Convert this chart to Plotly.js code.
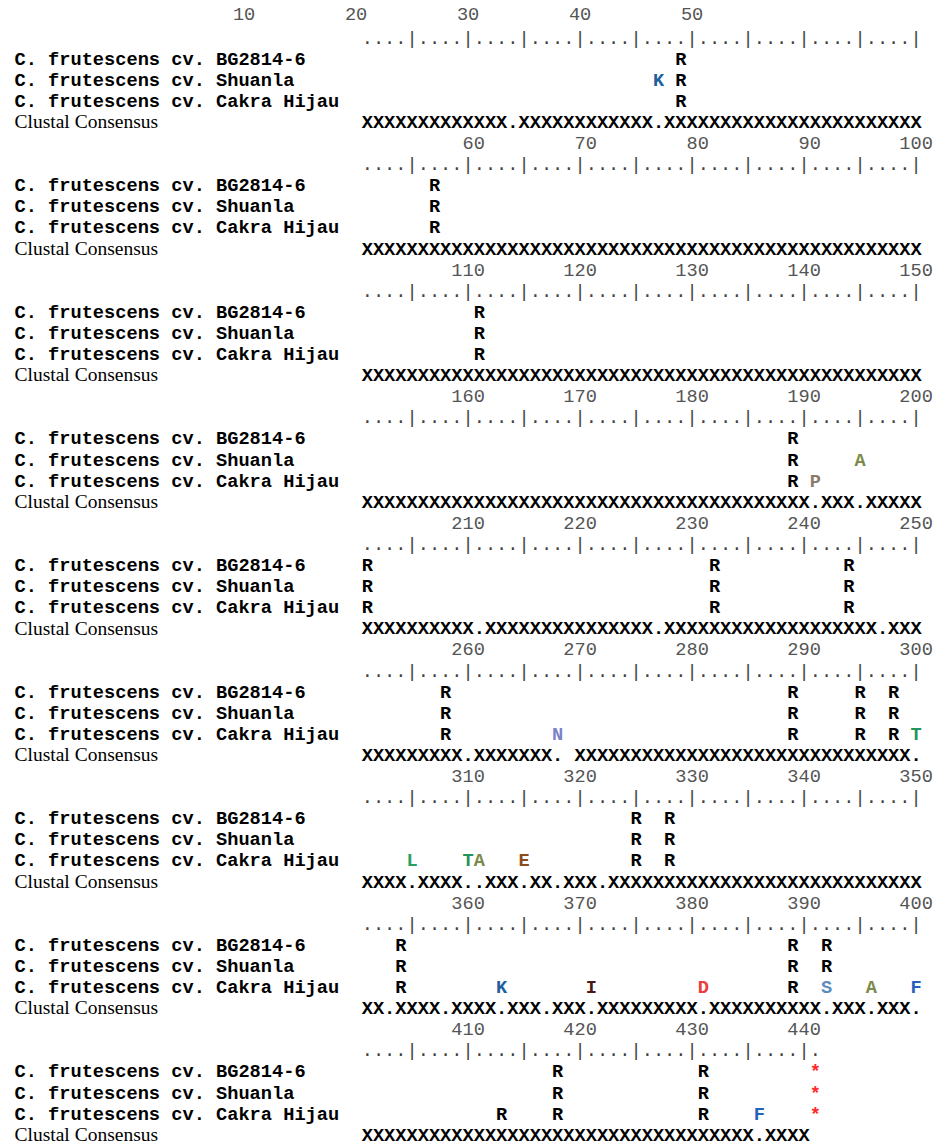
<!DOCTYPE html>
<html>
<head>
<meta charset="utf-8">
<script src="https://cdn.plot.ly/plotly-3.0.1.min.js"></script>
<style>html,body{margin:0;padding:0;background:#fff;}#chart{width:936px;height:1147px;}</style>
</head>
<body>
<div id="chart"></div>
<script>
// ---------------- DATA ----------------
const sequenceNames = ["C. frutescens cv. BG2814-6", "C. frutescens cv. Shuanla", "C. frutescens cv. Cakra Hijau"];
const consensusName = "Clustal Consensus";
const alignmentLength = 441;
const consensusLength = 440;
const blockSize = 50;

// displayed residues (alignment position, residue)
const bgPositions = [29, 57, 111, 189, 201, 232, 244, 258, 289, 295, 298, 325, 328, 354, 389, 392, 418, 431, 441];
const bgResidues  = ["R","R","R","R","R","R","R","R","R","R","R","R","R","R","R","R","R","R","*"];

const shuanlaPositions = [27, 29, 57, 111, 189, 195, 201, 232, 244, 258, 289, 295, 298, 325, 328, 354, 389, 392, 418, 431, 441];
const shuanlaResidues  = ["K","R","R","R","R","A","R","R","R","R","R","R","R","R","R","R","R","R","R","R","*"];

const cakraPositions = [29, 57, 111, 189, 191, 201, 232, 244, 258, 268, 289, 295, 298, 300, 305, 310, 311, 315, 325, 328, 354, 363, 371, 381, 389, 392, 396, 400, 413, 418, 431, 436, 441];
const cakraResidues  = ["R","R","R","R","P","R","R","R","R","N","R","R","R","T","L","T","A","E","R","R","R","K","I","D","R","S","A","F","R","R","R","F","*"];

// consensus: 'X' everywhere except these
const consensusDotPositions = [14, 27, 191, 195, 211, 227, 247, 260, 268, 300, 305, 310, 311, 315, 318, 322, 353, 358, 363, 367, 371, 381, 392, 396, 400, 436];
const consensusGapPositions = [269];

// ruler labels
const rulerLabels = [10,20,30,40,50,60,70,80,90,100,110,120,130,140,150,160,170,180,190,200,
  210,220,230,240,250,260,270,280,290,300,310,320,330,340,350,360,370,380,390,400,410,420,430,440];

// residue colours
const residueColors = {
  R: "#000000", K: "#1d5f9f", A: "#7c8b4b", P: "#8a7c6b", N: "#7b82c8", T: "#22955a",
  L: "#25a060", E: "#8c4b1f", I: "#4a1616", D: "#ef3b3b", S: "#5b8cc0", F: "#2462bb", "*": "#ff2a2a"
};

// ---------------- GEOMETRY HELPERS ----------------
const nameWidth = 31;               // characters reserved for names
const linesPerBlock = 6;            // numbers, ruler, 3 sequences, consensus
const pxLeft = 20.1, pxChar = 11.2; // char grid
const pyTop = 17.8, pyLine = 21.1;  // line grid
const blockOf = p => Math.floor((p - 1) / blockSize);
const colOf = p => (p - 1) % blockSize + 1;
const xOfCol = c => nameWidth + c - 1;        // grid char index
const lineOf = (b, k) => b * linesPerBlock + k;
const nBlocks = Math.ceil(alignmentLength / blockSize);

const monoBold = {family: "Liberation Mono, Courier New, monospace", size: 18.67, weight: "bold"};
const traces = [];

// names
{
  const x = [], y = [], t = [];
  for (let b = 0; b < nBlocks; b++) {
    sequenceNames.forEach((n, i) => { x.push(-0.5); y.push(lineOf(b, 2 + i)); t.push(n); });
  }
  traces.push({type: "scatter", mode: "text", x, y, text: t, textposition: "middle right",
    textfont: {...monoBold, color: "#000"}, hoverinfo: "skip"});
}
// consensus names
{
  const x = [], y = [], t = [];
  for (let b = 0; b < nBlocks; b++) { x.push(-0.5); y.push(lineOf(b, 5)); t.push(consensusName); }
  traces.push({type: "scatter", mode: "text", x, y, text: t, textposition: "middle right",
    textfont: {family: "Liberation Serif, Times New Roman, serif", size: 19.5, color: "#000"}, hoverinfo: "skip"});
}
// ruler labels
{
  const x = [], y = [], t = [];
  rulerLabels.forEach(p => {
    const s = String(p);
    let b = blockOf(p), c;
    if (p <= blockSize) { b = 0; c = p - 20; }
    else { c = colOf(p) + 1 - (s.length - 1) / 2; }
    x.push(xOfCol(c)); y.push(lineOf(b, 0) + (b === 0 ? -0.12 : 0)); t.push(s);
  });
  traces.push({type: "scatter", mode: "text", x, y, text: t, textposition: "middle center",
    textfont: {family: "Liberation Mono, Courier New, monospace", size: 18.67, color: "#555"}, hoverinfo: "skip"});
}
// ruler ticks
{
  const x = [], y = [], t = [];
  for (let p = 1; p <= alignmentLength; p++) {
    x.push(xOfCol(colOf(p))); y.push(lineOf(blockOf(p), 1)); t.push(p % 5 === 0 ? "|" : ".");
  }
  traces.push({type: "scatter", mode: "text", x, y, text: t, textposition: "middle center",
    textfont: {family: "Liberation Mono, Courier New, monospace", size: 18.67, color: "#444"}, hoverinfo: "skip"});
}
// residues
[[bgPositions, bgResidues], [shuanlaPositions, shuanlaResidues], [cakraPositions, cakraResidues]].forEach(([pos, res], i) => {
  traces.push({type: "scatter", mode: "text",
    x: pos.map(p => xOfCol(colOf(p))), y: pos.map(p => lineOf(blockOf(p), 2 + i)), text: res,
    textposition: "middle center",
    textfont: {...monoBold, color: res.map(r => residueColors[r])}, hoverinfo: "skip"});
});
// consensus
{
  const x = [], y = [], t = [];
  for (let p = 1; p <= consensusLength; p++) {
    if (consensusGapPositions.includes(p)) continue;
    x.push(xOfCol(colOf(p))); y.push(lineOf(blockOf(p), 5));
    t.push(consensusDotPositions.includes(p) ? "." : "X");
  }
  traces.push({type: "scatter", mode: "text", x, y, text: t, textposition: "middle center",
    textfont: {...monoBold, color: "#000"}, hoverinfo: "skip"});
}

const W = 936, H = 1147;
const layout = {
  width: W, height: H, margin: {l: 0, r: 0, t: 0, b: 0, pad: 0},
  paper_bgcolor: "#fff", plot_bgcolor: "#fff", showlegend: false,
  xaxis: {visible: false, range: [-pxLeft / pxChar, (W - pxLeft) / pxChar], fixedrange: true},
  yaxis: {visible: false, range: [(H - pyTop) / pyLine, -pyTop / pyLine], fixedrange: true}
};
Plotly.newPlot("chart", traces, layout, {staticPlot: true, displayModeBar: false});
</script>
</body>
</html>
